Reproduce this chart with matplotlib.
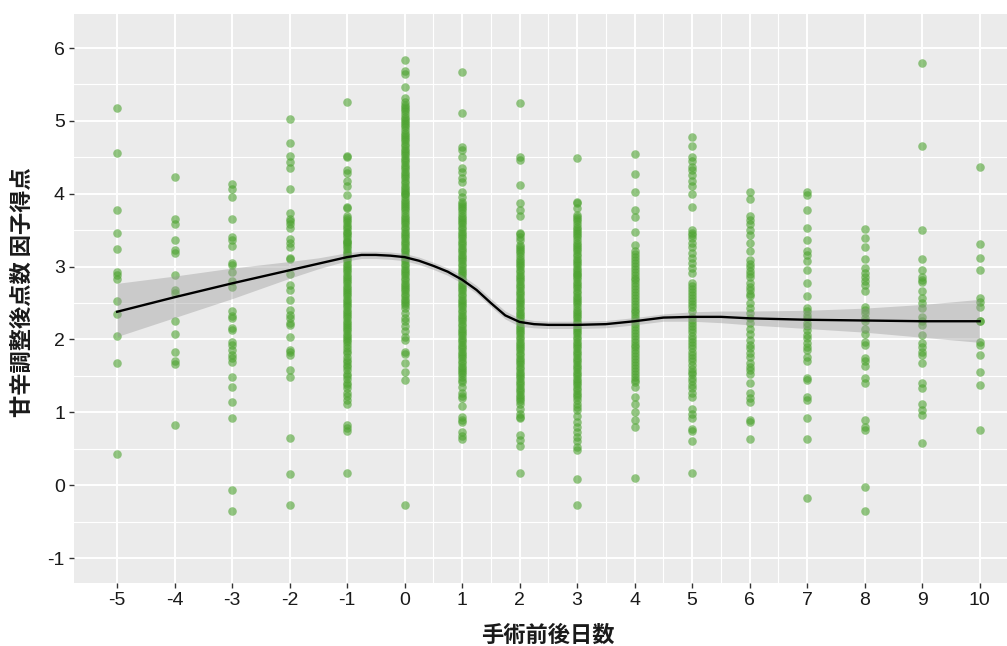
import matplotlib
matplotlib.use("Agg")
import matplotlib.pyplot as plt

plt.rcParams["axes.unicode_minus"] = False

# ---- data: factor scores per day relative to surgery ----
day_m5 = [5.18, 4.56, 3.78, 3.46, 3.24, 2.93, 2.88, 2.83, 2.53, 2.35, 2.05, 1.67, 0.43]
day_m4 = [4.23, 3.65, 3.58, 3.36, 3.23, 3.18, 2.89, 2.68, 2.64, 2.25, 2.07, 1.83, 1.71, 1.66, 0.83]
day_m3 = [4.14, 4.06, 3.95, 3.66, 3.40, 3.36, 3.28, 3.05, 3.02, 2.93, 2.80, 2.72, 2.39, 2.32,
          2.29, 2.16, 2.13, 1.97, 1.93, 1.85, 1.79, 1.74, 1.69, 1.49, 1.35, 1.14, 0.92, -0.06, -0.35]
day_m2 = [5.03, 4.69, 4.52, 4.44, 4.36, 4.07, 3.74, 3.66, 3.63, 3.58, 3.53, 3.38, 3.32, 3.27,
          3.12, 3.10, 2.90, 2.75, 2.68, 2.54, 2.40, 2.34, 2.29, 2.23, 2.20, 2.03, 1.86, 1.83,
          1.79, 1.58, 1.48, 0.65, 0.15, -0.27]
day_m1 = [5.26, 4.52, 4.50, 4.33, 4.28, 4.17, 4.10, 3.98, 3.82, 3.80,
          3.70, 3.67, 3.64, 3.61, 3.57, 3.55, 3.52, 3.48, 3.46, 3.43, 3.40, 3.37, 3.34, 3.34,
          3.31, 3.28, 3.25, 3.22, 3.19, 3.16, 3.13, 3.10, 3.07, 3.04, 3.01, 2.98, 2.95, 2.92,
          2.89, 2.86, 2.83, 2.80, 2.77, 2.74, 2.71, 2.68, 2.65, 2.62, 2.59, 2.56, 2.53, 2.50,
          2.47, 2.44, 2.41, 2.38, 2.35, 2.32, 2.29, 2.26, 2.23, 2.20, 2.17, 2.14, 2.11, 2.08,
          2.05, 2.02, 1.99, 1.96, 1.92, 1.88, 1.84, 1.81, 1.76, 1.72, 1.69, 1.65, 1.62, 1.58,
          1.53, 1.50, 1.46, 1.40, 1.37, 1.33, 1.26, 1.22, 1.17, 1.12, 0.82, 0.78, 0.75, 0.16]
day_0 = [5.84, 5.68, 5.65, 5.47, 5.31, 5.26, 5.22,
         5.19, 5.16, 5.13, 5.10, 5.06, 5.03, 5.00, 4.97, 4.94, 4.91, 4.87, 4.84, 4.81, 4.78,
         4.75, 4.72, 4.68, 4.65, 4.62, 4.59, 4.56, 4.53, 4.49, 4.46, 4.43, 4.40, 4.37, 4.34,
         4.30, 4.27, 4.24, 4.21, 4.18, 4.15, 4.11, 4.08, 4.05, 4.02, 4.00, 3.99, 3.96, 3.92,
         3.89, 3.86, 3.83, 3.80, 3.77, 3.73, 3.70, 3.67, 3.64, 3.61, 3.58, 3.54, 3.51, 3.48,
         3.45, 3.42, 3.39, 3.35, 3.32, 3.29, 3.26, 3.23, 3.20, 3.16, 3.13, 3.10, 3.07, 3.04,
         3.01, 2.97, 2.94, 2.91, 2.88, 2.85, 2.82, 2.78, 2.75, 2.72, 2.69, 2.66, 2.63, 2.59,
         2.56, 2.53, 2.50, 2.47, 2.43, 2.36, 2.30, 2.25, 2.18, 2.11, 2.04, 1.99, 1.83, 1.80,
         1.67, 1.56, 1.45, -0.27]
day_1 = [5.67, 5.11, 4.64, 4.60, 4.51, 4.35, 4.30, 4.22, 4.16, 4.03, 3.95,
         3.89, 3.86, 3.83, 3.80, 3.77, 3.73, 3.70, 3.67, 3.64, 3.61, 3.58, 3.54, 3.51, 3.48,
         3.45, 3.42, 3.39, 3.35, 3.32, 3.29, 3.26, 3.23, 3.20, 3.16, 3.13, 3.10, 3.07, 3.04,
         3.01, 2.97, 2.94, 2.91, 2.88, 2.85, 2.82, 2.78, 2.75, 2.72, 2.69, 2.66, 2.63, 2.59,
         2.56, 2.53, 2.50, 2.47, 2.44, 2.40, 2.37, 2.34, 2.31, 2.28, 2.25, 2.21, 2.18, 2.15,
         2.12, 2.09, 2.06, 2.02, 1.99, 1.96, 1.93, 1.90, 1.87, 1.83, 1.80, 1.77, 1.74, 1.71,
         1.68, 1.64, 1.61, 1.58, 1.55, 1.52, 1.49, 1.45, 1.42,
         1.35, 1.26, 1.22, 1.19, 1.08, 0.94, 0.90, 0.87, 0.73, 0.68, 0.64]
day_2 = [5.24, 4.51, 4.46, 4.12, 3.87, 3.78, 3.69, 3.46, 3.45, 3.41, 3.37,
         3.30, 3.27, 3.24, 3.21, 3.18, 3.14, 3.11, 3.08, 3.05, 3.02, 2.99, 2.95, 2.92, 2.89,
         2.86, 2.83, 2.80, 2.76, 2.73, 2.70, 2.67, 2.64, 2.61, 2.57, 2.54, 2.51, 2.48, 2.45,
         2.42, 2.38, 2.35, 2.32, 2.29, 2.26, 2.23, 2.19, 2.16, 2.13, 2.10, 2.07, 2.04, 2.00,
         1.97, 1.94, 1.91, 1.88, 1.85, 1.81, 1.78, 1.75, 1.72, 1.69, 1.66, 1.62, 1.59, 1.56,
         1.53, 1.50, 1.47, 1.43, 1.40, 1.37, 1.34, 1.31, 1.28, 1.24, 1.21, 1.18, 1.15, 1.12,
         1.05, 0.98, 0.94, 0.92, 0.69, 0.62, 0.54, 0.16]
day_3 = [4.49, 3.89, 3.87, 3.80,
         3.71, 3.68, 3.65, 3.62, 3.59, 3.55, 3.52, 3.49, 3.46, 3.43, 3.40, 3.36, 3.33, 3.30,
         3.27, 3.24, 3.21, 3.17, 3.14, 3.11, 3.08, 3.05, 3.02, 2.98, 2.95, 2.92, 2.90, 2.89,
         2.86, 2.83, 2.79, 2.76, 2.73, 2.70, 2.67, 2.64, 2.60, 2.57, 2.54, 2.51, 2.48, 2.45,
         2.41, 2.38, 2.35, 2.32, 2.29, 2.26, 2.22, 2.19, 2.16, 2.13, 2.10, 2.07, 2.03, 2.00,
         1.97, 1.94, 1.91, 1.88, 1.84, 1.81, 1.78, 1.75, 1.72, 1.69, 1.65, 1.62, 1.59, 1.56,
         1.53, 1.50, 1.46, 1.43, 1.40, 1.37, 1.34, 1.31, 1.27, 1.24, 1.21,
         1.17, 1.12, 1.07, 1.03, 0.95, 0.87, 0.80, 0.73, 0.66, 0.60, 0.53, 0.48, 0.08, -0.27]
day_4 = [4.55, 4.27, 4.03, 3.78, 3.68, 3.48, 3.30,
         3.21, 3.17, 3.13, 3.09, 3.05, 3.01, 2.97, 2.93, 2.89, 2.85, 2.81, 2.77, 2.73, 2.69,
         2.65, 2.61, 2.57, 2.53, 2.49, 2.45, 2.41, 2.37, 2.33, 2.29, 2.25, 2.21, 2.17, 2.13,
         2.09, 2.05, 2.01, 1.97, 1.93, 1.89, 1.85, 1.81, 1.77, 1.73, 1.69, 1.65, 1.61, 1.57,
         1.53, 1.49, 1.45, 1.41, 1.35, 1.21, 1.12, 1.01, 0.90, 0.80, 0.10]
day_5 = [4.78, 4.65, 4.51, 4.45, 4.37, 4.33, 4.26, 4.17, 4.10, 4.00, 3.82, 3.50, 3.46, 3.43,
         3.39, 3.33, 3.27, 3.18, 3.12, 3.05, 2.98, 2.91, 2.77, 2.73, 2.69, 2.65, 2.61, 2.57,
         2.53, 2.49, 2.45, 2.39, 2.31, 2.27, 2.22, 2.18, 2.14, 2.10, 2.05, 2.01, 1.97, 1.92,
         1.88, 1.83, 1.79, 1.74, 1.70, 1.65, 1.60, 1.56, 1.52, 1.47, 1.43, 1.38, 1.33, 1.26,
         1.21, 1.05, 0.98, 0.92, 0.77, 0.75, 0.60, 0.16]
day_6 = [4.03, 3.93, 3.69, 3.64, 3.58, 3.50, 3.43, 3.32, 3.21, 3.09, 3.04, 2.99, 2.94, 2.90,
         2.86, 2.77, 2.72, 2.68, 2.63, 2.59, 2.50, 2.43, 2.36, 2.29, 2.22, 2.15, 2.08, 1.99,
         1.93, 1.88, 1.82, 1.76, 1.67, 1.62, 1.58, 1.53, 1.40, 1.26, 1.19, 1.14, 0.90, 0.87, 0.64]
day_7 = [4.02, 3.98, 3.78, 3.53, 3.37, 3.21, 3.16, 3.07, 2.95, 2.77, 2.59, 2.43, 2.39, 2.34,
         2.29, 2.22, 2.18, 2.13, 2.06, 2.02, 1.95, 1.90, 1.86, 1.76, 1.70, 1.47, 1.45, 1.21,
         1.17, 0.92, 0.64, -0.18]
day_8 = [3.51, 3.39, 3.27, 3.10, 2.98, 2.91, 2.86, 2.80, 2.75, 2.66, 2.45, 2.40, 2.36, 2.30,
         2.25, 2.15, 2.08, 1.97, 1.92, 1.74, 1.70, 1.63, 1.47, 1.40, 0.90, 0.80, 0.76, -0.02, -0.36]
day_9 = [5.80, 4.66, 3.50, 3.10, 2.95, 2.86, 2.82, 2.79, 2.66, 2.57, 2.50, 2.43, 2.31, 2.26,
         2.20, 2.06, 1.95, 1.90, 1.83, 1.79, 1.67, 1.40, 1.33, 1.12, 1.03, 0.96, 0.58]
day_10 = [4.37, 3.31, 3.12, 2.95, 2.57, 2.52, 2.45, 2.26, 2.25, 1.97, 1.93, 1.79, 1.56, 1.37, 0.76]

days = list(range(-5, 11))
scores_by_day = [day_m5, day_m4, day_m3, day_m2, day_m1, day_0, day_1, day_2, day_3,
                 day_4, day_5, day_6, day_7, day_8, day_9, day_10]

# loess trend with its confidence band
smooth_x = [-5, -4, -3, -2, -1.5, -1, -0.75, -0.5, -0.25, 0, 0.25, 0.5, 0.75, 1, 1.25,
            1.5, 1.75, 2, 2.25, 2.5, 3, 3.5, 4, 4.5, 5, 5.5, 6, 7, 8, 9, 10]
smooth_y = [2.38, 2.58, 2.77, 2.95, 3.04, 3.13, 3.16, 3.16, 3.15, 3.13, 3.08, 3.01, 2.93,
            2.82, 2.68, 2.50, 2.33, 2.24, 2.21, 2.20, 2.20, 2.21, 2.25, 2.30, 2.31, 2.31,
            2.29, 2.27, 2.26, 2.25, 2.25]
smooth_lo = [2.04, 2.30, 2.56, 2.84, 2.97, 3.08, 3.11, 3.11, 3.10, 3.08, 3.03, 2.96, 2.88,
             2.77, 2.63, 2.45, 2.28, 2.18, 2.16, 2.15, 2.15, 2.16, 2.20, 2.25, 2.25, 2.23,
             2.20, 2.15, 2.10, 2.03, 1.96]
smooth_hi = [2.77, 2.87, 2.98, 3.07, 3.12, 3.19, 3.21, 3.21, 3.20, 3.18, 3.13, 3.06, 2.98,
             2.88, 2.74, 2.56, 2.39, 2.29, 2.26, 2.25, 2.25, 2.26, 2.30, 2.35, 2.38, 2.39,
             2.39, 2.40, 2.43, 2.48, 2.55]

x_ticks = list(range(-5, 11))
y_ticks = list(range(-1, 7))
x_minor = [0.5, 1.5, 2.5, 3.5, 4.5, 5.5, 6.5]
y_minor = [-0.5, 0.5, 1.5, 2.5, 3.5, 4.5, 5.5]

# ---- figure ----
W, H = 1007, 646
fig = plt.figure(figsize=(W / 100, H / 100), dpi=100)
px_per_unit = 57.5
xmin, xmax = -5.75, 10.75
ymin, ymax = -1.343, 6.467
ax = fig.add_axes([74 / W, (H - 583) / H, (xmax - xmin) * px_per_unit / W, 569 / H])
ax.set_facecolor("#EBEBEB")
for s in ax.spines.values():
    s.set_visible(False)

for g in y_minor:
    ax.axhline(g, color="white", lw=0.8, zorder=0)
for g in x_minor:
    ax.axvline(g, color="white", lw=0.8, zorder=0)
for g in y_ticks:
    ax.axhline(g, color="white", lw=1.4, zorder=0)
for g in x_ticks:
    ax.axvline(g, color="white", lw=1.4, zorder=0)

for d, vals in zip(days, scores_by_day):
    ax.scatter([d] * len(vals), vals, s=38, color="#4DA331", alpha=0.6,
               linewidths=0, zorder=2)

ax.fill_between(smooth_x, smooth_lo, smooth_hi, color="#999999", alpha=0.4,
                linewidth=0, zorder=3)
ax.plot(smooth_x, smooth_y, color="black", lw=1.7, zorder=4)

ax.set_xlim(xmin, xmax)
ax.set_ylim(ymin, ymax)
ax.set_xticks(x_ticks)
ax.set_xticklabels([str(v) for v in x_ticks])
ax.set_yticks(y_ticks)
ax.set_yticklabels([str(v) for v in y_ticks])
ax.tick_params(axis="both", length=3.5, width=1.0, color="#333333",
               labelsize=14, labelcolor="#1a1a1a", pad=3)
for lab in ax.get_xticklabels() + ax.get_yticklabels():
    lab.set_fontfamily(["Liberation Sans", "DejaVu Sans"])

cjk = ["Noto Sans CJK JP", "DejaVu Sans"]
fig.text(548 / W, 1 - 635 / H, "手術前後日数", ha="center", va="center",
         fontsize=16, fontweight="bold", family=cjk, color="#1a1a1a")
fig.text(22 / W, 1 - 292 / H, "甘辛調整後点数 因子得点", ha="center", va="center",
         rotation=90, fontsize=16, fontweight="bold", family=cjk, color="#1a1a1a")

fig.savefig("out.png", dpi=100)
